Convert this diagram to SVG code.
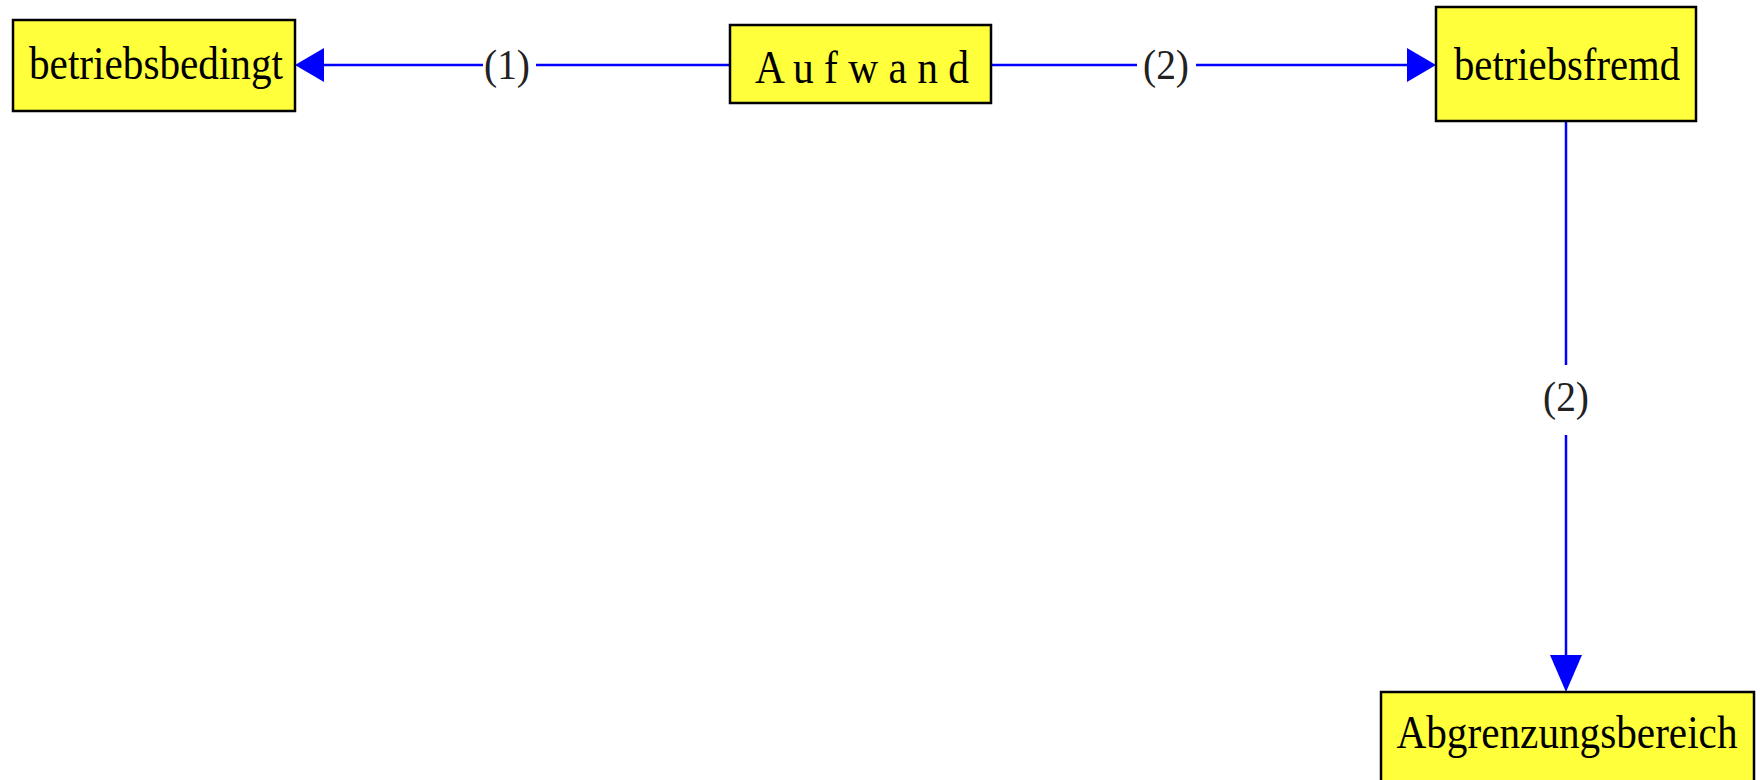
<svg xmlns="http://www.w3.org/2000/svg" width="1760" height="780" viewBox="0 0 1760 780">
<style>
.box{fill:#FFFF3C;stroke:#000;stroke-width:2.5}
.shadow{fill:none;stroke:#999;stroke-width:1.5}
.t{font-family:"Liberation Serif","Times New Roman",serif;font-size:46px;fill:#000;text-anchor:middle}
.lbl{font-family:"Liberation Serif","Times New Roman",serif;font-size:42px;fill:#222;text-anchor:middle}
.edge{stroke:#0000FF;stroke-width:2.5;fill:none}
.head{fill:#0000FF}
</style>
<rect width="1760" height="780" fill="#fff"/>
<g id="connectors">
  <line class="edge" x1="730" y1="65" x2="536" y2="65"/>
  <line class="edge" x1="483" y1="65" x2="322" y2="65"/>
  <polygon class="head" points="295,65 324,48 324,82"/>
  <text class="lbl" x="507" y="79" textLength="46" lengthAdjust="spacingAndGlyphs">(1)</text>
  <line class="edge" x1="991" y1="65" x2="1137" y2="65"/>
  <line class="edge" x1="1196" y1="65" x2="1409" y2="65"/>
  <polygon class="head" points="1436,65 1407,48 1407,82"/>
  <text class="lbl" x="1166" y="79" textLength="46" lengthAdjust="spacingAndGlyphs">(2)</text>
  <line class="edge" x1="1566" y1="121" x2="1566" y2="365"/>
  <line class="edge" x1="1566" y1="435" x2="1566" y2="657"/>
  <polygon class="head" points="1566,692 1550,655 1582,655"/>
  <text class="lbl" x="1566" y="411" textLength="46" lengthAdjust="spacingAndGlyphs">(2)</text>
  <line class="edge" x1="155" y1="107" x2="155" y2="111"/>
  <line class="edge" x1="1381" y1="732" x2="1384" y2="732"/>
  <line class="edge" x1="1567" y1="775" x2="1567" y2="780"/>
</g>
<g id="betriebsbedingt">
  <rect class="box" x="13" y="20" width="282" height="91"/>
  <text class="t" x="156" y="79" textLength="254" lengthAdjust="spacingAndGlyphs">betriebsbedingt</text>
</g>
<g id="aufwand">
  <rect class="box" x="730" y="25" width="261" height="78"/>
  <text class="t" x="862" y="83" textLength="214" lengthAdjust="spacingAndGlyphs">A u f w a n d</text>
</g>
<g id="betriebsfremd">
  <rect class="box" x="1436" y="7" width="260" height="114"/>
  <text class="t" x="1567" y="80" textLength="226" lengthAdjust="spacingAndGlyphs">betriebsfremd</text>
</g>
<g id="abgrenzungsbereich">
  <rect class="box" x="1381" y="692" width="373" height="100"/>
  <text class="t" x="1567" y="748" textLength="341" lengthAdjust="spacingAndGlyphs">Abgrenzungsbereich</text>
</g>
</svg>
